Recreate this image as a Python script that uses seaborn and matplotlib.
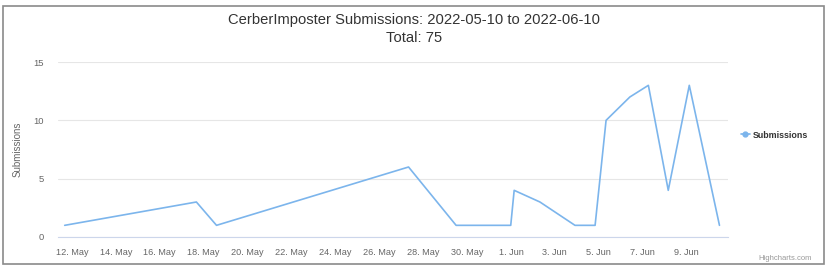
import matplotlib
matplotlib.use("Agg")
import matplotlib.pyplot as plt
from matplotlib.lines import Line2D
from matplotlib.patches import Rectangle
import seaborn as sns
import pandas as pd

# ---- data ----
timestamps = [
    "2022-05-11 16:00", "2022-05-17 16:00", "2022-05-18 14:00", "2022-05-27 08:00",
    "2022-05-29 12:00", "2022-05-31 23:45", "2022-06-01 03:30", "2022-06-02 07:40",
    "2022-06-03 22:00", "2022-06-04 20:00", "2022-06-05 08:00", "2022-06-06 10:00",
    "2022-06-07 06:15", "2022-06-08 04:00", "2022-06-09 03:00", "2022-06-10 12:00",
]
submissions = [1, 3, 1, 6, 1, 1, 4, 3, 1, 1, 10, 12, 13, 4, 13, 1]
tick_dates = ["2022-05-12", "2022-05-14", "2022-05-16", "2022-05-18", "2022-05-20",
              "2022-05-22", "2022-05-24", "2022-05-26", "2022-05-28", "2022-05-30",
              "2022-06-01", "2022-06-03", "2022-06-05", "2022-06-07", "2022-06-09"]
y_ticks = [0, 5, 10, 15]
title_line1 = "CerberImposter Submissions: 2022-05-10 to 2022-06-10"
title_line2 = "Total: 75"
series_name = "Submissions"

df = pd.DataFrame({"time": pd.to_datetime(timestamps), series_name: submissions})

sns.set_theme(style="white")
plt.rcParams["font.family"] = ["Liberation Sans", "DejaVu Sans"]

W, H = 828, 272
fig = plt.figure(figsize=(W / 100, H / 100), dpi=100)
fig.patch.set_facecolor("white")

# outer frame (screenshot border)
fig.patches.append(Rectangle((3 / W, 1 - 264 / H), (824 - 3) / W, (264 - 6) / H,
                             transform=fig.transFigure, fill=False,
                             edgecolor="#8a8a8a", linewidth=1.2))

ax = fig.add_axes([58 / W, (H - 237) / H, (728 - 58) / W, (237 - 62) / H])
ax.set_facecolor("white")

sns.lineplot(data=df, x="time", y=series_name, ax=ax, color="#7cb5ec",
             linewidth=1.2, legend=False)

ax.set_xlim(pd.Timestamp("2022-05-11 08:40"), pd.Timestamp("2022-06-10 21:20"))
ax.set_ylim(0, 15)

ax.set_yticks(y_ticks)
ax.set_yticklabels([str(v) for v in y_ticks], fontsize=6.8, color="#666666")
ax.yaxis.grid(True, color="#e6e6e6", linewidth=0.8)
ax.xaxis.grid(False)
ax.tick_params(axis="y", length=0, pad=10)

tds = pd.to_datetime(tick_dates)
ax.set_xticks(tds)
ax.set_xticklabels([f"{d.day}. {d.strftime('%b')}" for d in tds], fontsize=6.6, color="#666666")
ax.tick_params(axis="x", length=5, width=0.8, color="#ccd6eb", pad=3)

for s in ["top", "right", "left"]:
    ax.spines[s].set_visible(False)
ax.spines["bottom"].set_color("#ccd6eb")
ax.spines["bottom"].set_linewidth(0.8)

ax.set_xlabel("")
ax.set_ylabel("Submissions", fontsize=7, color="#666666", labelpad=8)

fig.text(414 / W, 1 - 20 / H, title_line1, ha="center", va="center",
         fontsize=10.6, color="#333333")
fig.text(414 / W, 1 - 38 / H, title_line2, ha="center", va="center",
         fontsize=10.6, color="#333333")

handle = Line2D([0], [0], color="#7cb5ec", linewidth=1.2, marker="o", markersize=3.5)
fig.legend([handle], [series_name], loc="center left",
           bbox_to_anchor=(741 / W, 1 - 135 / H), frameon=False,
           borderpad=0, borderaxespad=0,
           handlelength=1.0, handletextpad=0.3,
           prop={"size": 6.4, "weight": "bold"}, labelcolor="#333333")

fig.text(812 / W, 1 - 258 / H, "Highcharts.com", ha="right", va="center",
         fontsize=5.5, color="#999999")

fig.savefig("out.png", dpi=100, facecolor="white")
